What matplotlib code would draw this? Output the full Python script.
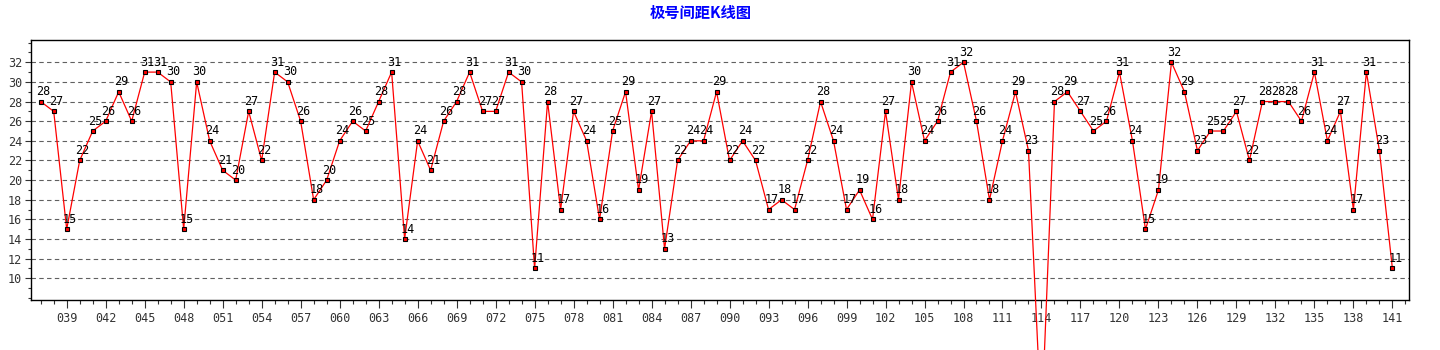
import matplotlib
matplotlib.use('Agg')
import matplotlib.pyplot as plt
from matplotlib.ticker import MultipleLocator, FuncFormatter

plt.rcParams['font.family'] = ['DejaVu Sans Mono']

# issue numbers and the span value of each issue
issues = list(range(37, 142))
spans = [28, 27, 15, 22, 25, 26, 29, 26, 31, 31,
         30, 15, 30, 24, 21, 20, 27, 22, 31, 30,
         26, 18, 20, 24, 26, 25, 28, 31, 14, 24,
         21, 26, 28, 31, 27, 27, 31, 30, 11, 28,
         17, 27, 24, 16, 25, 29, 19, 27, 13, 22,
         24, 24, 29, 22, 24, 22, 17, 18, 17, 22,
         28, 24, 17, 19, 16, 27, 18, 30, 24, 26,
         31, 32, 26, 18, 24, 29, 23, -5, 28, 29,
         27, 25, 26, 31, 24, 15, 19, 32, 29, 23,
         25, 25, 27, 22, 28, 28, 28, 26, 31, 24,
         27, 17, 31, 23, 11]

ymin, ymax = 7.79, 34.27

fig = plt.figure(figsize=(14.4, 3.5), dpi=100)
ax = fig.add_axes([30.7 / 1440, 50 / 350, 1378.6 / 1440, 260 / 350])

# the line is left unclipped so the dip runs past the bottom of the frame
ax.plot(issues, spans, color='red', lw=0.9, marker='s', ms=3.2,
        mfc='red', mec='black', mew=0.8, clip_on=False, zorder=3)

for x, v in zip(issues, spans):
    if v < ymin:
        continue  # label would sit below the figure
    ax.annotate(str(v), (x, v), xytext=(-3, 2.5), textcoords='offset points',
                ha='left', va='bottom', fontsize=8.5, color='black',
                annotation_clip=False, zorder=4)

ax.set_xlim(36.23, 142.3)
ax.set_ylim(ymin, ymax)

ax.xaxis.set_minor_locator(MultipleLocator(1))
ax.set_xticks([i for i in issues if i % 3 == 0])
ax.xaxis.set_major_formatter(FuncFormatter(lambda v, p: '%03d' % int(round(v))))
ax.yaxis.set_minor_locator(MultipleLocator(1))
ax.set_yticks(range(10, 33, 2))

ax.tick_params(axis='x', which='major', length=6, width=0.8, labelsize=8.5,
               pad=3, colors='#333333')
ax.tick_params(axis='x', which='minor', length=3, width=0.8, colors='#333333')
ax.tick_params(axis='y', which='major', length=4, width=0.8, labelsize=8.5,
               pad=2, colors='#333333')
ax.tick_params(axis='y', which='minor', length=2.5, width=0.8, colors='#333333')

ax.grid(axis='y', which='major', ls=(0, (4, 3)), color='#606060', lw=0.8)
ax.set_axisbelow(True)
for s in ax.spines.values():
    s.set_linewidth(1.0)
    s.set_color('black')

fig.text(701 / 1440, 1 - 12.5 / 350, '极号间距K线图', ha='center', va='center',
         fontsize=11, fontweight='bold', color='#0000ff',
         family=['Noto Sans CJK SC', 'DejaVu Sans'])

fig.savefig('out.png', dpi=100, facecolor='white')
